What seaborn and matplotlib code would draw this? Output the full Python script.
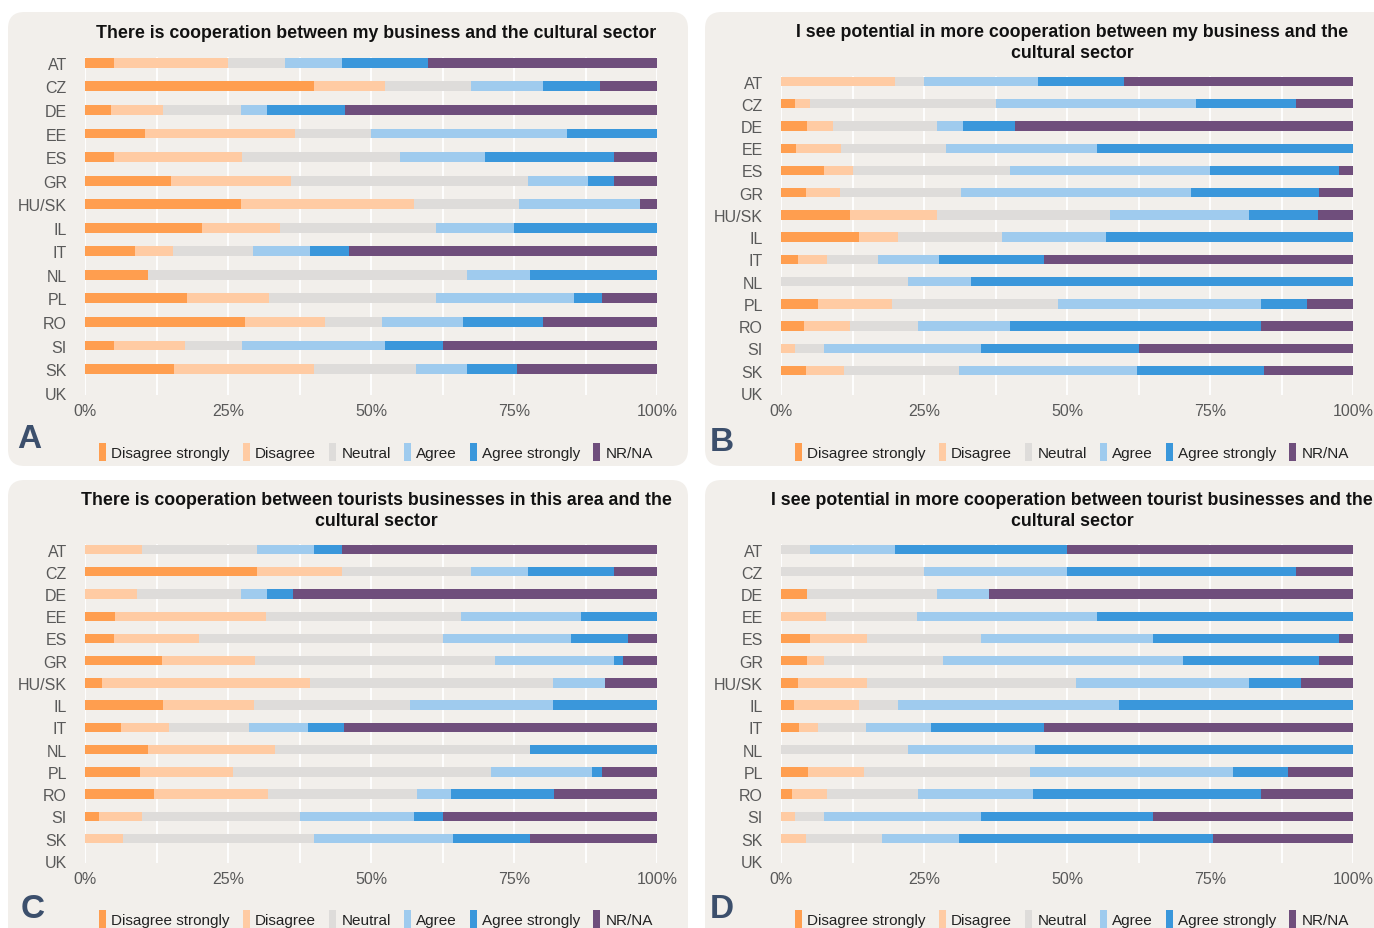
import matplotlib
matplotlib.use("Agg")
import matplotlib.pyplot as plt
from matplotlib.patches import FancyBboxPatch, Patch
import numpy as np
import pandas as pd
import seaborn as sns

sns.set_theme(style="white")
plt.rcParams["font.family"] = ["Liberation Sans", "DejaVu Sans"]

countries = ["AT", "CZ", "DE", "EE", "ES", "GR", "HU/SK", "IL", "IT", "NL", "PL", "RO", "SI", "SK", "UK"]
categories = ["Disagree strongly", "Disagree", "Neutral", "Agree", "Agree strongly", "NR/NA"]
colors = ["#ff9e4f", "#ffcba3", "#dedcda", "#9fcbee", "#3a97db", "#6f4e7c"]

# A: cooperation between my business and the cultural sector (% of respondents)
a_ds = [5.0, 40.0, 4.5, 10.5, 5.0, 15.0, 27.3, 20.5, 8.7, 11.1, 17.8, 28.0, 5.0, 15.6, 0]
a_d = [20.0, 12.5, 9.1, 26.3, 22.5, 21.0, 30.3, 13.6, 6.6, 0.0, 14.4, 14.0, 12.5, 24.4, 0]
a_n = [10.0, 15.0, 13.6, 13.2, 27.5, 41.5, 18.2, 27.3, 14.0, 55.6, 29.1, 10.0, 10.0, 17.8, 0]
a_a = [10.0, 12.5, 4.6, 34.2, 15.0, 10.5, 21.2, 13.6, 10.0, 11.1, 24.2, 14.0, 25.0, 8.9, 0]
a_as = [15.0, 10.0, 13.6, 15.8, 22.5, 4.5, 0.0, 25.0, 6.8, 22.2, 4.8, 14.0, 10.0, 8.9, 0]
a_nr = [40.0, 10.0, 54.6, 0.0, 7.5, 7.5, 3.0, 0.0, 53.9, 0.0, 9.7, 20.0, 37.5, 24.4, 0]

# B: potential in more cooperation between my business and the cultural sector
b_ds = [0.0, 2.5, 4.5, 2.6, 7.5, 4.4, 12.1, 13.6, 3.0, 0.0, 6.5, 4.0, 0.0, 4.4, 0]
b_d = [20.0, 2.5, 4.6, 7.9, 5.0, 6.0, 15.2, 6.8, 5.0, 0.0, 12.9, 8.0, 2.5, 6.7, 0]
b_n = [5.0, 32.5, 18.2, 18.4, 27.5, 21.0, 30.3, 18.2, 8.9, 22.2, 29.0, 12.0, 5.0, 20.0, 0]
b_a = [20.0, 35.0, 4.5, 26.3, 35.0, 40.3, 24.2, 18.2, 10.7, 11.1, 35.5, 16.0, 27.5, 31.1, 0]
b_as = [15.0, 17.5, 9.1, 44.8, 22.5, 22.4, 12.1, 43.2, 18.4, 66.7, 8.1, 44.0, 27.5, 22.2, 0]
b_nr = [40.0, 10.0, 59.1, 0.0, 2.5, 5.9, 6.1, 0.0, 54.0, 0.0, 8.0, 16.0, 37.5, 15.6, 0]

# C: cooperation between tourist businesses in this area and the cultural sector
c_ds = [0.0, 30.0, 0.0, 5.3, 5.0, 13.4, 3.0, 13.6, 6.3, 11.1, 9.7, 12.0, 2.5, 0.0, 0]
c_d = [10.0, 15.0, 9.1, 26.3, 15.0, 16.4, 36.4, 15.9, 8.4, 22.2, 16.1, 20.0, 7.5, 6.7, 0]
c_n = [20.0, 22.5, 18.2, 34.2, 42.5, 41.8, 42.4, 27.3, 13.9, 44.5, 45.2, 26.0, 27.5, 33.3, 0]
c_a = [10.0, 10.0, 4.5, 21.0, 22.5, 20.9, 9.1, 25.0, 10.4, 0.0, 17.7, 6.0, 20.0, 24.4, 0]
c_as = [5.0, 15.0, 4.6, 13.2, 10.0, 1.5, 0.0, 18.2, 6.3, 22.2, 1.6, 18.0, 5.0, 13.4, 0]
c_nr = [55.0, 7.5, 63.6, 0.0, 5.0, 6.0, 9.1, 0.0, 54.7, 0.0, 9.7, 18.0, 37.5, 22.2, 0]

# D: potential in more cooperation between tourist businesses and the cultural sector
d_ds = [0.0, 0.0, 4.5, 0.0, 5.0, 4.5, 3.0, 2.3, 3.2, 0.0, 4.8, 2.0, 0.0, 0.0, 0]
d_d = [0.0, 0.0, 0.0, 7.9, 10.0, 3.0, 12.1, 11.4, 3.3, 0.0, 9.7, 6.0, 2.5, 4.4, 0]
d_n = [5.0, 25.0, 22.7, 15.8, 20.0, 20.9, 36.4, 6.8, 8.4, 22.2, 29.0, 16.0, 5.0, 13.3, 0]
d_a = [15.0, 25.0, 9.1, 31.6, 30.0, 41.8, 30.3, 38.6, 11.4, 22.2, 35.5, 20.0, 27.5, 13.4, 0]
d_as = [30.0, 40.0, 0.0, 44.7, 32.5, 23.9, 9.1, 40.9, 19.7, 55.6, 9.7, 40.0, 30.0, 44.5, 0]
d_nr = [50.0, 10.0, 63.7, 0.0, 2.5, 5.9, 9.1, 0.0, 54.0, 0.0, 11.3, 16.0, 35.0, 24.4, 0]

titles = [
    "There is cooperation between my business and the cultural sector",
    "I see potential in more cooperation between my business and the\ncultural sector",
    "There is cooperation between tourists businesses in this area and the\ncultural sector",
    "I see potential in more cooperation between tourist businesses and the\ncultural sector",
]
letters = ["A", "B", "C", "D"]
panel_values = [
    [a_ds, a_d, a_n, a_a, a_as, a_nr],
    [b_ds, b_d, b_n, b_a, b_as, b_nr],
    [c_ds, c_d, c_n, c_a, c_as, c_nr],
    [d_ds, d_d, d_n, d_a, d_as, d_nr],
]

W, H = 1374, 929
fig = plt.figure(figsize=(W / 100, H / 100), dpi=100)
fig.patch.set_facecolor("white")

PANEL_BG = "#f2efeb"
# panel frames in pixel units: (x0, y0_top, x1, y1_bottom)
frames = [(8, 13, 688, 467), (705, 13, 1390, 467), (8, 481, 688, 945), (705, 481, 1390, 945)]
# axes rectangles in pixels: (left, top, right, bottom)
axes_px = [(85, 58, 657, 396), (781, 77, 1353, 396), (85, 545, 657, 864), (781, 545, 1353, 864)]
title_y = [33, 43, 511, 511]
legend_y = [453, 453, 920, 920]
letter_pos = [(29, 440), (722, 443), (33, 910), (722, 910)]


def fx(px):
    return px / W


def fy(py):
    return 1 - py / H


for (x0, y0, x1, y1) in frames:
    fig.patches.append(FancyBboxPatch(
        (fx(x0), fy(y1)), fx(x1 - x0), (y1 - y0) / H,
        boxstyle="round,pad=0,rounding_size=0.012",
        transform=fig.transFigure, facecolor=PANEL_BG, edgecolor="none",
        mutation_aspect=W / H, zorder=-1))

for i in range(4):
    l, t, r, b = axes_px[i]
    ax = fig.add_axes([fx(l), fy(b), fx(r - l), (b - t) / H])
    ax.set_facecolor("none")

    vals = panel_values[i]
    df = pd.DataFrame({"country": countries})
    for cat, v in zip(categories, vals):
        df[cat] = v
    cum = df[categories].cumsum(axis=1)

    # stacked bars: draw cumulative totals from the outermost segment inward
    for cat, col in reversed(list(zip(categories, colors))):
        sns.barplot(x=cum[cat].values, y=df["country"], order=countries, orient="h",
                    color=col, saturation=1, width=0.42, errorbar=None, ax=ax,
                    linewidth=0, zorder=3)

    ax.set_xlim(0, 100)
    ax.set_ylim(14.1, -0.25)
    ax.set_xticks([0, 25, 50, 75, 100])
    ax.set_xticklabels(["0%", "25%", "50%", "75%", "100%"])
    ax.set_xticks([12.5, 37.5, 62.5, 87.5], minor=True)
    ax.grid(True, axis="x", which="both", color="white", linewidth=1.3, zorder=1)
    ax.set_axisbelow(True)
    ax.tick_params(axis="both", which="both", length=0, labelsize=11.5, labelcolor="#595959")
    ax.tick_params(axis="y", pad=13)
    ax.tick_params(axis="x", pad=6)
    ax.set_xlabel("")
    ax.set_ylabel("")
    for s in ax.spines.values():
        s.set_visible(False)

    cx = (l + r) / 2 + 5
    fig.text(fx(cx), fy(title_y[i]), titles[i], ha="center", va="center",
             fontsize=12.8, fontweight="bold", color="#111111", linespacing=1.25)

    handles = [Patch(facecolor=c, edgecolor="none") for c in colors]
    fig.legend(handles, categories, loc="center", bbox_to_anchor=(fx(cx), fy(legend_y[i])),
               ncol=6, frameon=False, fontsize=11, handlelength=0.45, handleheight=1.5,
               handletextpad=0.35, columnspacing=0.85, labelcolor="#222222")

    lx, ly = letter_pos[i]
    fig.text(fx(lx), fy(ly), letters[i], ha="center", va="center", fontsize=24,
             fontweight="bold", color="#3c4f6c")

fig.savefig("out.png", dpi=100, facecolor="white")
